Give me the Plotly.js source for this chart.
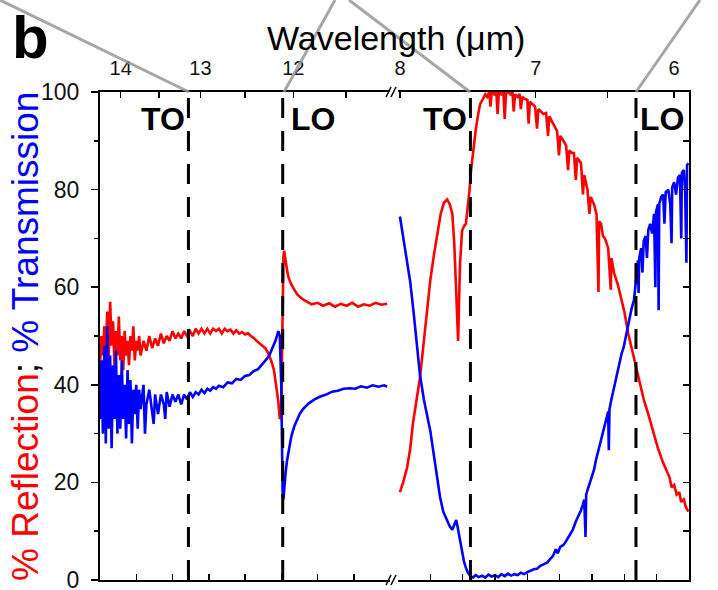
<!DOCTYPE html>
<html><head><meta charset="utf-8">
<script src="https://cdn.plot.ly/plotly-3.0.1.min.js"></script>
<style>html,body{margin:0;padding:0;background:#fff}#chart{width:718px;height:590px}</style>
</head><body><div id="chart"></div>
<script>
// [wavenumber (cm^-1), % reflection] left segment
const reflLeft = [[700,44],[701,50],[702,46],[703,52],[704,47],[705,55],[706,45],[707,57],[708,48],[709,53],[710,44],[711,51],[712,46],[713,54],[714,45],[715,50],[716,43],[717,51],[718,46],[719,49],[720,44],[721,50],[722,47],[723,52],[724,45],[725,49],[726,47],[727,50],[728,46],
[730,49],[732,47],[734,50],[736,47.5],[738,49.5],[740,48],[742,50.5],[744,48.5],[746,50],[748,49],[750,51],[752,49.5],[754,50.5],[756,49.5],[758,51],[760,50],[762,51],[764,50],[766,51.5],[768,50.5],[770,51.5],[772,50.5],[774,51.5],[776,50.5],[778,51.5],[780,51],[782,51.5],[784,50.5],[786,51.5],[788,51],[790,51.3],[792,50.5],[794,51.2],[796,50.5],[798,50.8],[800,50.3],[802,50.6],[804,50],[806,49.6],[808,49],[810,48.5],[812,48],[814,47.5],[816,46.5],[818,45],[820,43],[822,39],
[823,36.5],[824,33],[825,33.5],[825.5,45],[826,60],[826.5,66],[827,67.5],[828,65],[829,63.5],[830,62],[832,60.5],[834,59.5],[836,58.5],[838,58],[840,57.5],[843,57],[846,56.5],[850,56.8],[854,56.2],[858,56.7],[862,56],[866,56.6],[870,56.2],[874,56.8],[878,56],[882,56.5],[886,56.2],[890,56.8],[894,56.4],[898,56.6]];
// [wavenumber, % transmission] left segment
const transLeft = [[700,33],[701,45],[702,30],[703,48],[704,28],[705,52],[706,31],[707,46],[708,27],[709,44],[710,33],[711,47],[712,30],[713,42],[714,31],[715,45],[716,33],[717,40],[718,29],[719,43],[720,32],[721,41],[722,28],[723,39],[724,34],[725,40],[726,31],[727,39],[728,35],
[730,40],[731,30],[732,36],[734,39],[736,35],[737,32],[738,38],[740,34],[742,38],[744,36],[745,33],[746,38.5],[748,35.5],[750,38],[752,36.5],[754,38],[756,36],[758,38],[760,37],[762,38.5],[764,37.5],[766,38.5],[768,38],[770,39],[772,38.3],[774,39.2],[776,38.8],[778,39.5],[780,39.2],[782,39.8],[785,39.5],[788,40.5],[791,40.3],[794,41.2],[797,41],[800,41.8],[803,42],[806,42.8],[809,43.2],[812,44.2],[815,45.3],[817,46.2],[819,47.5],[821,49],[823,51],[824,50],
[825,40],[825.5,25],[826,17],[826.5,16.5],[827,19],[828,22],[829,24.5],[830,26.5],[832,29.5],[834,31.5],[836,33],[838,34.2],[840,35],[844,36.2],[848,37],[852,37.6],[856,38],[860,38.6],[864,38.8],[868,39.2],[872,39.3],[876,39.2],[880,39.7],[884,39.4],[888,39.9],[892,39.6],[896,39.9],[898,39.6]];
// right segment
const reflRight = [[1253,18],[1258,20],[1264,23],[1269,27],[1273,32],[1279,37.5],[1284,41.5],[1290,49],[1295,55.5],[1300,61.5],[1306,67],[1311,71.5],[1316,75],[1321,77.3],[1326,78],[1330,77],[1334,75],[1337,69],[1340,60],[1342,52],[1343,49],[1344,55],[1346,65],[1349,71.5],[1352,72.5],[1355,73],[1357,75],[1360,79],[1363,84],[1366,88],[1370,92],[1374,95.5],[1377,97.5],[1381,98.5],[1385,99.5],[1388,99],[1391,100],[1393,97],[1395,100],[1399,99.5],[1402,100],[1404,95.5],[1406,100],[1410,99.5],[1413,100],[1415,94.5],[1417,99.8],[1421,100],[1424,99.5],[1427,100],[1429,96],[1431,99.5],[1435,99],[1438,99.6],[1440,96.5],[1442,99],[1446,98.6],[1450,98.4],[1452,93.5],[1454,98],[1458,97.5],[1462,97],[1465,92.5],[1467,96.5],[1471,96],[1475,95.5],[1479,95.7],[1482,91],[1484,95],[1488,94],[1492,93],[1496,92],[1499,87],[1501,91],[1506,90],[1510,89],[1513,84],[1515,88],[1519,87.5],[1522,87.5],[1525,82],[1527,86.5],[1530,86],[1533,85.4],[1536,79],[1538,83],[1543,80],[1546,75],[1548,78.5],[1553,77],[1557,75],[1560,59],[1561,73.5],[1564,73],[1567,70.5],[1570,70],[1575,68],[1579,59.5],[1580,66],[1584,63],[1590,60.5],[1595,58],[1600,55],[1606,50.5],[1612,47],[1618,43.5],[1624,40],[1630,37],[1637,34],[1644,30.5],[1652,27],[1660,24],[1666,22],[1670,21],[1673,19],[1677,19.5],[1681,17.5],[1685,18],[1688,16],[1692,16.5],[1695,15],[1699,14]];
const transRight = [[1253,74.5],[1258,70],[1263,66],[1269,61],[1274,55],[1279,48.5],[1284,42],[1290,37],[1295,33.5],[1300,30.5],[1305,26],[1310,21],[1315,17],[1320,14],[1326,12],[1330,11],[1334,10.3],[1337,11.3],[1340,12.3],[1342,11],[1344,9.5],[1346,7.5],[1349,5.5],[1352,3.8],[1355,2.5],[1358,1.5],[1362,0.8],[1366,0.5],[1370,1],[1375,0.6],[1380,0.9],[1385,0.5],[1390,1.1],[1395,0.7],[1400,1],[1405,0.6],[1410,1.2],[1415,0.8],[1420,1.3],[1425,0.9],[1430,1.2],[1435,1],[1440,1.5],[1445,1.2],[1450,1.6],[1455,1.9],[1460,2.2],[1465,2.3],[1470,2.9],[1475,3.2],[1481,3.6],[1486,4.4],[1490,5],[1494,6.3],[1497,5.5],[1501,6.8],[1506,7.2],[1510,8],[1515,9.2],[1520,10.2],[1525,12],[1530,13.4],[1533,14.3],[1536,15.5],[1538,16.5],[1540,8.8],[1541,17.5],[1543,18.4],[1546,19.5],[1549,21],[1553,22.5],[1556,24.5],[1559,26],[1562,28],[1564,28.7],[1567,30.5],[1570,32],[1573,33.5],[1575,34.5],[1576,26.6],[1577,35],[1580,37],[1584,39.5],[1588,42],[1592,44.5],[1596,46.5],[1599,47.7],[1603,50.5],[1607,53],[1611,55.5],[1615,57.4],[1617,60],[1619,63],[1621,65.5],[1622,58.8],[1623,66],[1626,68],[1628,63],[1630,69.5],[1633,70.5],[1635,66],[1637,71.7],[1640,73],[1643,71],[1646,75],[1648,60],[1649,75.5],[1652,77],[1653,55.3],[1654,77],[1657,78.5],[1660,79],[1662,73],[1664,79.5],[1668,80],[1671,77],[1673,69],[1674,80.5],[1677,81.5],[1680,79],[1683,82.5],[1686,83],[1688,70],[1689,83.4],[1692,84],[1694,80],[1696,65],[1697,85],[1699,85.4]];

// phonon mode positions (cm^-1) and labels
const modeLeftWn = [761, 826];
const modeRightWn = [1362, 1618];
const modeLabels = ['TO', 'LO'];

// top (wavelength) axis ticks, as placed in the figure
const topLeftTickWn = [714.29, 740.74, 769.23, 800, 833.33, 869.57];
const topLeftTickText = ['14', '', '13', '', '12', ''];
const topRightTickWn = [1253, 1463, 1574, 1677];
const topRightTickText = ['8', '7', '', '6'];

const FONT = 'Arial, "Liberation Sans", sans-serif';
const RED = '#ff0000', BLUE = '#0000ff';
const L = 100, R = 29, T = 92, B = 10, W = 718, H = 590;
const pw = W - L - R, ph = H - T - B;
const px = v => (v - L) / pw;
const py = v => (H - B - v) / ph;

const xs = a => a.map(p => p[0]);
const ys = a => a.map(p => p[1]);

const LW = 2.6;
const traces = [
  {x: xs(reflLeft), y: ys(reflLeft), xaxis: 'x', yaxis: 'y', mode: 'lines', line: {color: RED, width: LW}, hoverinfo: 'skip'},
  {x: xs(transLeft), y: ys(transLeft), xaxis: 'x', yaxis: 'y', mode: 'lines', line: {color: BLUE, width: LW}, hoverinfo: 'skip'},
  {x: xs(reflRight), y: ys(reflRight), xaxis: 'x2', yaxis: 'y2', mode: 'lines', line: {color: RED, width: LW}, hoverinfo: 'skip'},
  {x: xs(transRight), y: ys(transRight), xaxis: 'x2', yaxis: 'y2', mode: 'lines', line: {color: BLUE, width: LW}, hoverinfo: 'skip'}
];
modeLeftWn.forEach(w => traces.push({x: [w, w], y: [0, 100], xaxis: 'x3', yaxis: 'y', mode: 'lines', line: {color: '#000', width: 3, dash: '20px,13px'}, hoverinfo: 'skip'}));
modeRightWn.forEach(w => traces.push({x: [w, w], y: [0, 100], xaxis: 'x4', yaxis: 'y2', mode: 'lines', line: {color: '#000', width: 3, dash: '20px,13px'}, hoverinfo: 'skip'}));

const axBase = {showgrid: false, zeroline: false, showline: true, linecolor: '#000', linewidth: 2, tickcolor: '#000', tickwidth: 1.5, fixedrange: true, ticklabeloverflow: 'allow'};
const dL = [0, px(390)], dR = [px(398), 1];

const annotations = [
  {text: '<b>b</b>', x: px(30), y: py(37), xref: 'paper', yref: 'paper', xanchor: 'center', yanchor: 'middle', showarrow: false, font: {family: FONT, size: 60, color: '#000'}},
  {text: 'Wavelength (μm)', x: px(396), y: py(38), xref: 'paper', yref: 'paper', xanchor: 'center', yanchor: 'middle', showarrow: false, font: {family: FONT, size: 34, color: '#000'}},
  {text: '<span style="color:' + RED + '">% Reflection</span>; <span style="color:' + BLUE + '">% Transmission</span>', x: px(25), y: py(337), xref: 'paper', yref: 'paper', xanchor: 'center', yanchor: 'middle', textangle: -90, showarrow: false, font: {family: FONT, size: 37, color: '#000'}}
];
modeLeftWn.forEach((w, i) => annotations.push({text: '<b>' + modeLabels[i] + '</b>', x: w, y: 94.5, xref: 'x', yref: 'y', xanchor: i === 0 ? 'right' : 'left', xshift: i === 0 ? -1 : 6, showarrow: false, font: {family: FONT, size: 32, color: '#000'}}));
modeRightWn.forEach((w, i) => annotations.push({text: '<b>' + modeLabels[i] + '</b>', x: w, y: 94.5, xref: 'x2', yref: 'y2', xanchor: i === 0 ? 'right' : 'left', xshift: i === 0 ? -1 : 2, showarrow: false, font: {family: FONT, size: 32, color: '#000'}}));

const seg = (x0, y0, x1, y1, color, width) => ({type: 'line', xref: 'paper', yref: 'paper', x0: px(x0), y0: py(y0), x1: px(x1), y1: py(y1), line: {color, width}});
const GRAY = 'rgba(150,150,150,0.85)';
const shapes = [
  seg(0, 0, 189, 92, GRAY, 3), seg(284, 92, 335, 0, GRAY, 3), seg(349, 0, 470, 92, GRAY, 3), seg(636, 92, 700, 0, GRAY, 3),
  seg(386, 97, 391, 87, '#000', 1.5), seg(391, 97, 396, 87, '#000', 1.5),
  seg(386, 585, 391, 575, '#000', 1.5), seg(391, 585, 396, 575, '#000', 1.5)
];

const topFont = {family: FONT, size: 20, color: '#111'};
const layout = {
  width: W, height: H, margin: {l: L, r: R, t: T, b: B, pad: 0},
  paper_bgcolor: '#fff', plot_bgcolor: 'rgba(0,0,0,0)', showlegend: false,
  font: {family: FONT, color: '#111'},
  xaxis: Object.assign({}, axBase, {domain: dL, range: [700, 900], anchor: 'y', ticks: 'inside', tick0: 700, dtick: 25, ticklen: 6, showticklabels: false}),
  xaxis2: Object.assign({}, axBase, {domain: dR, range: [1250, 1700], anchor: 'y2', ticks: 'inside', tick0: 1250, dtick: 50, ticklen: 6, showticklabels: false}),
  xaxis3: Object.assign({}, axBase, {domain: dL, range: [700, 900], overlaying: 'x', side: 'top', anchor: 'y', ticks: 'inside', ticklen: 6, ticklabelstandoff: 7, tickmode: 'array', tickvals: topLeftTickWn, ticktext: topLeftTickText, tickfont: topFont}),
  xaxis4: Object.assign({}, axBase, {domain: dR, range: [1250, 1700], overlaying: 'x2', side: 'top', anchor: 'y2', ticks: 'inside', ticklen: 6, ticklabelstandoff: 7, tickmode: 'array', tickvals: topRightTickWn, ticktext: topRightTickText, tickfont: topFont}),
  yaxis: Object.assign({}, axBase, {domain: [0, 1], range: [0, 100], anchor: 'x', ticks: 'outside', ticklen: 7, ticklabelstandoff: 7, tick0: 0, dtick: 20, tickfont: {family: FONT, size: 23, color: '#111'}, minor: {ticks: 'outside', dtick: 10, ticklen: 4, tickcolor: '#000', tickwidth: 1.5}}),
  yaxis2: Object.assign({}, axBase, {domain: [0, 1], range: [0, 100], anchor: 'x2', side: 'right', ticks: 'inside', tick0: 0, dtick: 10, ticklen: 6, showticklabels: false}),
  annotations, shapes
};

Plotly.newPlot('chart', traces, layout, {staticPlot: true, displayModeBar: false});
</script></body></html>
